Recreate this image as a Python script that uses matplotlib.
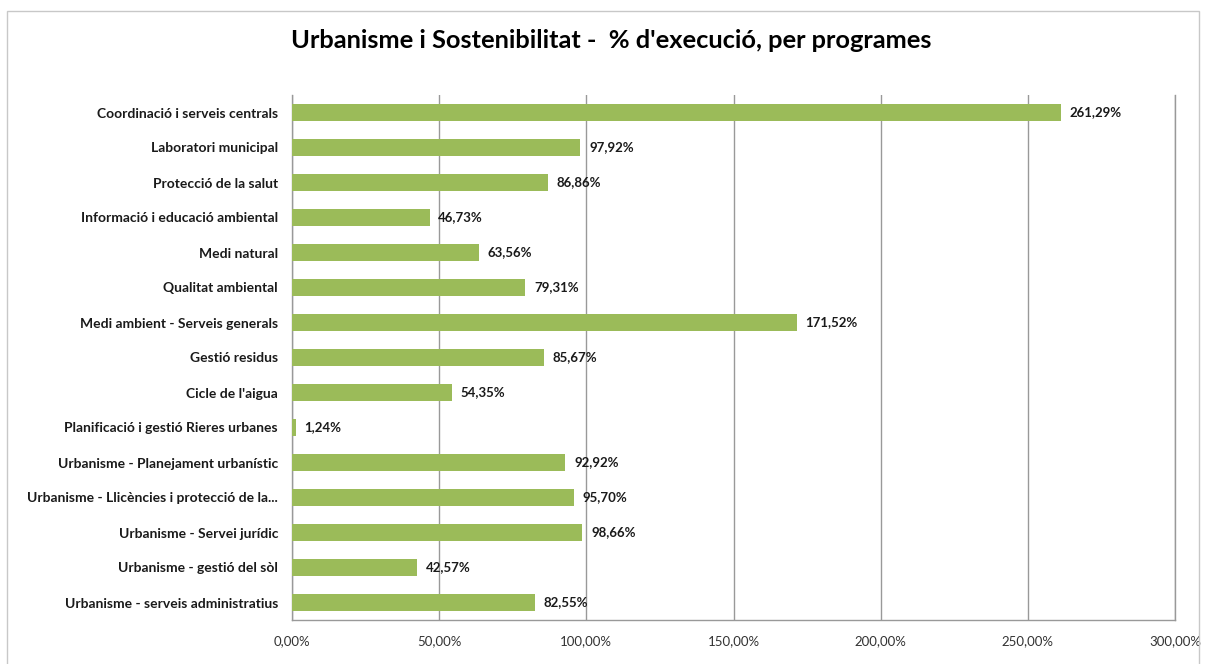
import matplotlib.pyplot as plt
from matplotlib.patches import Rectangle

categories = ["Coordinació i serveis centrals", "Laboratori municipal", "Protecció de la salut",
              "Informació i educació ambiental", "Medi natural", "Qualitat ambiental",
              "Medi ambient - Serveis generals", "Gestió residus", "Cicle de l'aigua",
              "Planificació i gestió Rieres urbanes", "Urbanisme - Planejament urbanístic",
              "Urbanisme - Llicències i protecció de la...", "Urbanisme - Servei jurídic",
              "Urbanisme - gestió del sòl", "Urbanisme - serveis administratius"]
values = [261.29, 97.92, 86.86, 46.73, 63.56, 79.31, 171.52, 85.67, 54.35, 1.24,
          92.92, 95.70, 98.66, 42.57, 82.55]
xticks = [0, 50, 100, 150, 200, 250, 300]

plt.rcParams['font.family'] = ['Lato', 'DejaVu Sans']

fig = plt.figure(figsize=(12.06, 6.64), dpi=100)
ax = fig.add_axes([292/1206, 1-620/664, (1175-292)/1206, (620-95)/664])

ypos = list(range(len(categories)))[::-1]
ax.barh(ypos, values, height=0.46, color='#9BBB59', zorder=3)
for y, v in zip(ypos, values):
    ax.text(v + 3, y, f"{v:.2f}".replace('.', ',') + '%', va='center', ha='left',
            fontsize=9.5, fontweight='bold', color='#1a1a1a', zorder=4)

ax.set_xlim(0, 300)
ax.set_ylim(-0.5, len(categories) - 0.5)
ax.set_yticks(ypos)
ax.set_yticklabels(categories, fontsize=10, fontweight='bold', color='#1a1a1a')
ax.set_xticks(xticks)
ax.set_xticklabels([f"{t:.2f}".replace('.', ',') + '%' for t in xticks], fontsize=9.5, color='#333333')
ax.tick_params(axis='both', length=0)
ax.tick_params(axis='x', pad=11)
ax.tick_params(axis='y', pad=10)
ax.grid(axis='x', color='#999999', linewidth=1, zorder=0)
ax.spines['top'].set_visible(False)
for s in ['left', 'bottom', 'right']:
    ax.spines[s].set_color('#999999')
    ax.spines[s].set_linewidth(1)

fig.text(611/1206, 1-40/664, "Urbanisme i Sostenibilitat -  % d'execució, per programes",
         ha='center', va='center', fontsize=18.3, fontweight='bold', color='#000000')

fig.patches.append(Rectangle((7/1206, -0.02), (1199-7)/1206, 1-11/664+0.02,
                             transform=fig.transFigure, fill=False, edgecolor='#c8c8c8', linewidth=1))

fig.savefig('out.png', dpi=100)
